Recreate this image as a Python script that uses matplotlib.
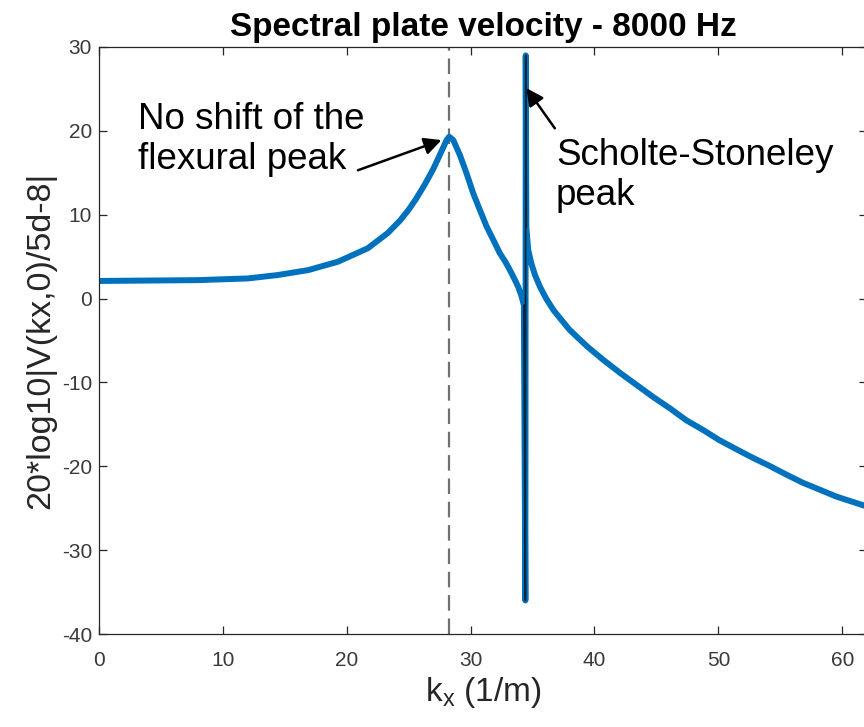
"""Spectral plate velocity at 8000 Hz."""

import matplotlib
matplotlib.use('Agg')
import matplotlib.pyplot as plt

# values
kx = [0.0, 4.0, 8.0, 12.0, 14.4, 16.9, 19.3, 21.7, 23.3, 24.3, 25.0, 25.6,
      26.3, 27.0, 27.66, 28.06, 28.27, 28.6, 29.14, 29.68, 30.21, 30.75,
      31.29, 31.83, 32.36, 32.8, 33.17, 33.55, 33.84, 34.11, 34.30,
      34.42, 34.45, 34.50,
      34.65, 34.9, 35.2, 35.6, 36.1, 36.7, 38.0, 39.4, 40.7, 42.1, 43.4,
      44.7, 46.1, 47.4, 48.8, 50.1, 51.5, 52.8, 54.2, 55.5, 56.8, 58.2,
      59.5, 62.0]
level = [2.1, 2.15, 2.2, 2.4, 2.8, 3.4, 4.4, 6.0, 7.8, 9.3, 10.6, 11.9,
         13.6, 15.5, 17.6, 18.9, 19.3, 18.9, 17.1, 14.9, 12.55, 10.56,
         8.6, 7.0, 5.4, 4.4, 3.4, 2.3, 1.4, 0.3, -0.8,
         -36.0, 29.0, 8.5,
         5.8, 4.2, 2.8, 1.4, 0.0, -1.4, -3.75, -5.7, -7.3, -8.9, -10.3,
         -11.7, -13.1, -14.5, -15.7, -16.9, -18.0, -19.0, -20.0, -21.0,
         -21.95, -22.8, -23.6, -24.8]
spike = slice(30, 34)

flex_peak_kx = 28.25
flex_tip = (27.65, 18.9)
flex_tail = (20.9, 15.3)
ss_tip = (34.5, 25.1)
ss_tail = (36.8, 20.3)

xticks = [0, 10, 20, 30, 40, 50, 60]
yticks = [-40, -30, -20, -10, 0, 10, 20, 30]

plt.rcParams['font.family'] = ['Liberation Sans', 'DejaVu Sans']
plt.rcParams['mathtext.fontset'] = 'custom'
plt.rcParams['mathtext.rm'] = 'Liberation Sans'
plt.rcParams['mathtext.it'] = 'Liberation Sans'
plt.rcParams['axes.unicode_minus'] = False

fig = plt.figure(figsize=(8.64, 7.27), dpi=100)
ax = fig.add_axes([99 / 864, 93 / 727, 768 / 864, 587 / 727])

blue = '#0072BD'
ax.axvline(flex_peak_kx, color='#707070', lw=1.6, dashes=(7, 3.5))
ax.plot(kx, level, color=blue, lw=4.3, solid_joinstyle='round',
        solid_capstyle='butt')
ax.plot(kx[spike], level[spike], color='#0b2740', lw=1.3)

ax.set_xlim(0, 62)
ax.set_ylim(-40, 30)
ax.set_xticks(xticks)
ax.set_yticks(yticks)
ax.tick_params(direction='in', length=5.8, width=0.9, colors='#262626',
               labelcolor='#3a3a3a', labelsize=15, top=True, right=True)
ax.tick_params(axis='x', pad=12)
ax.tick_params(axis='y', pad=5)
for sp in ax.spines.values():
    sp.set_color('#262626')
    sp.set_linewidth(0.9)

ax.set_title('Spectral plate velocity - 8000 Hz', fontsize=24,
             fontweight='bold', pad=8)
ax.set_xlabel(r'k$_\mathregular{x}$ (1/m)', fontsize=24, color='#262626')
ax.set_ylabel('20*log10|V(kx,0)/5d-8|', fontsize=24.5, color='#262626')

ax.text(3.15, 23.5, 'No shift of the\nflexural peak', fontsize=26.5,
        ha='left', va='top', linespacing=1.2)
ax.text(36.9, 19.2, 'Scholte-Stoneley\npeak', fontsize=26.5,
        ha='left', va='top', linespacing=1.2)
arrow = dict(arrowstyle='-|>', color='black', lw=1.8, mutation_scale=26,
             shrinkA=0, shrinkB=0)
ax.annotate('', xy=flex_tip, xytext=flex_tail, arrowprops=arrow)
ax.annotate('', xy=ss_tip, xytext=ss_tail, arrowprops=arrow)

fig.savefig('out.png', dpi=100)
